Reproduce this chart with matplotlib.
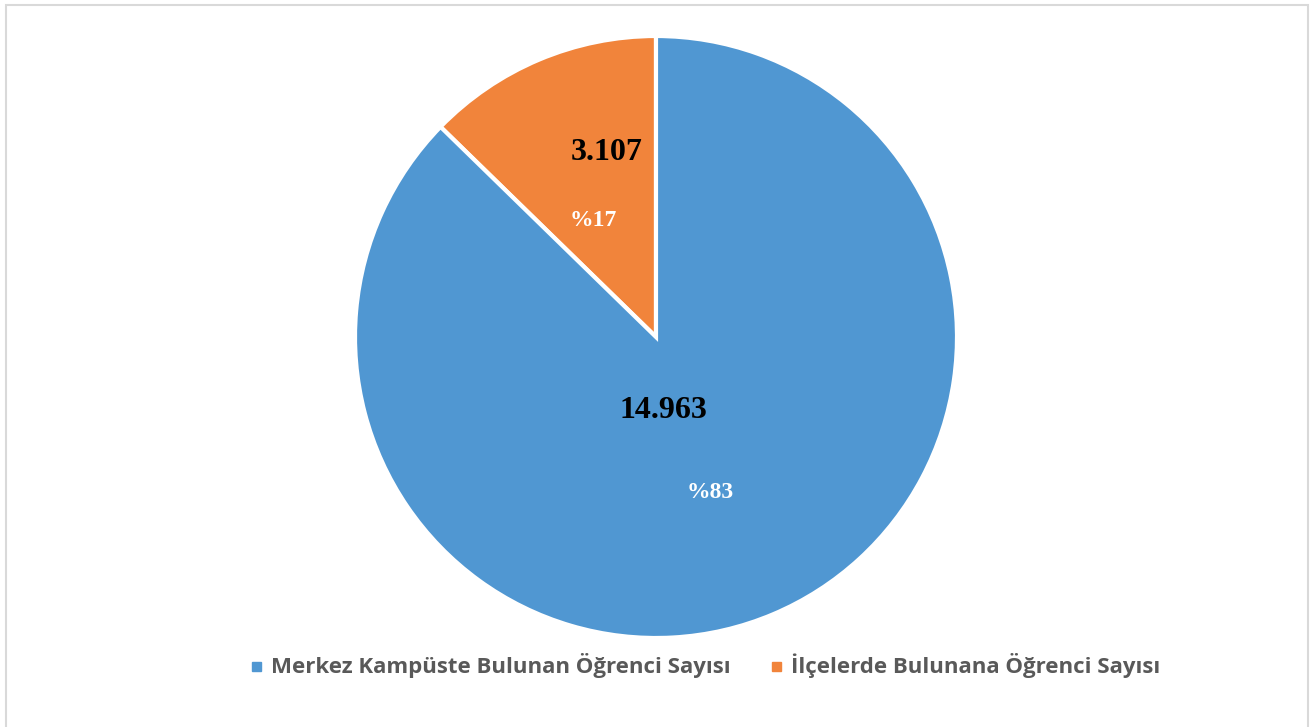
import matplotlib.pyplot as plt
from matplotlib.patches import Rectangle

# legend names (blue first in the legend)
names = ["Merkez Kampüste Bulunan Öğrenci Sayısı", "İlçelerde Bulunana Öğrenci Sayısı"]
counts = ["14.963", "3.107"]
percents = ["%83", "%17"]
# wedge shares as drawn in the picture
shares = [87.3, 12.7]
colors = ["#5097d2", "#f1843b"]

W, H = 1313, 727
fig = plt.figure(figsize=(W / 100, H / 100), dpi=100)
ax = fig.add_axes([0, 0, 1, 1])

# chart frame (bottom edge lies below the image)
ax.add_patch(Rectangle((6, -10), 1302, H - 5 + 10, fill=False, edgecolor="#d9d9d9", lw=1.5))

cx, cy, r = 656, H - 337, 301
# orange drawn first so it runs counterclockwise from the top
ax.pie(shares[::-1], colors=colors[::-1], startangle=90, counterclock=True,
       center=(cx, cy), radius=r, frame=True,
       wedgeprops=dict(edgecolor="white", linewidth=3))
ax.set_xlim(0, W)
ax.set_ylim(0, H)
ax.set_aspect("equal")
ax.axis("off")

serif = "Liberation Serif"
# value labels (offsets from the pie centre, in px)
ax.text(cx - 49, cy + 185, counts[1], ha="center", va="center", fontsize=23,
        fontweight="bold", family=serif, color="black")
ax.text(cx - 63, cy + 117, percents[1], ha="center", va="center", fontsize=17,
        fontweight="bold", family=serif, color="white")
ax.text(cx + 7, cy - 73, counts[0], ha="center", va="center", fontsize=23,
        fontweight="bold", family=serif, color="black")
ax.text(cx + 54, cy - 155, percents[0], ha="center", va="center", fontsize=17,
        fontweight="bold", family=serif, color="white")

# legend
ly = H - 666
for x0, name, col in zip([252, 772], names, colors):
    ax.add_patch(Rectangle((x0, ly - 4.5), 9, 9, color=col))
    ax.text(x0 + 19, ly, name, ha="left", va="center", fontsize=16,
            fontweight="bold", family="Open Sans", color="#595959")

fig.savefig("out.png", dpi=100)
